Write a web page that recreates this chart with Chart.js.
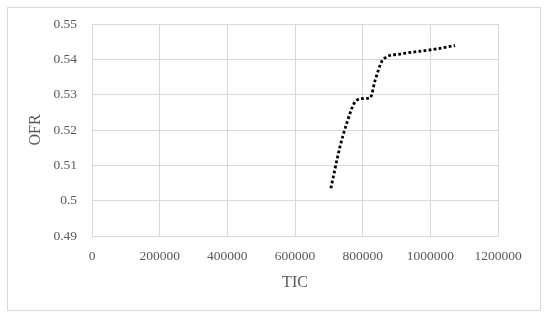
<!DOCTYPE html>
<html>
<head>
<meta charset="utf-8">
<script src="https://cdn.jsdelivr.net/npm/chart.js@4"></script>
<style>
  html, body { margin: 0; padding: 0; background: #fff; }
  #wrap { width: 550px; height: 318px; position: relative; }
</style>
</head>
<body>
<div id="wrap"><canvas id="myChart"></canvas></div>
<script>
// values
const ticValues = [706000, 733000, 753000, 778000, 802000, 822000, 837000, 856000, 871000, 910000, 1009000, 1073000];
const ofrValues = [0.5035, 0.5153, 0.5219, 0.528, 0.5289, 0.5291, 0.5341, 0.5393, 0.5407, 0.5415, 0.5428, 0.5439];

const xTickLabels = ['0', '200000', '400000', '600000', '800000', '1000000', '1200000'];
const yTickLabels = ['0.49', '0.5', '0.51', '0.52', '0.53', '0.54', '0.55'];

const points = ticValues.map((x, i) => ({ x: x, y: ofrValues[i] }));

const textColor = '#595959';
const gridColor = '#d9d9d9';
const font = { family: 'Liberation Serif', size: 13.5 };

// outer frame round the whole chart
const frame = {
    id: 'frame',
    beforeDraw(chart) {
        const ctx = chart.ctx;
        ctx.save();
        ctx.fillStyle = '#fff';
        ctx.fillRect(0, 0, chart.width, chart.height);
        ctx.strokeStyle = '#d9d9d9';
        ctx.lineWidth = 1;
        ctx.strokeRect(7.5, 7.5, 533, 303);
        ctx.restore();
    }
};

const myChart = new Chart(document.getElementById('myChart'), {
    type: 'scatter',
    data: {
        datasets: [{
            label: 'OFR',
            data: points,
            showLine: true,
            borderColor: '#000',
            borderWidth: 2.8,
            borderDash: [2.8, 2.3],
            borderCapStyle: 'butt',
            cubicInterpolationMode: 'monotone',
            pointRadius: 0,
            fill: false
        }]
    },
    options: {
        animation: false,
        responsive: true,
        maintainAspectRatio: false,
        layout: { padding: { left: 10, right: 52, top: 24, bottom: 10 } },
        plugins: {
            legend: { display: false },
            tooltip: { enabled: false }
        },
        scales: {
            x: {
                type: 'linear',
                min: 0,
                max: 1200000,
                afterFit: (s) => { s.height = 72; },
                afterBuildTicks: (s) => {
                    s.ticks = xTickLabels.map((t) => ({ value: Number(t) }));
                },
                ticks: {
                    color: textColor,
                    font: font,
                    padding: 12,
                    maxRotation: 0,
                    autoSkip: false,
                    callback: (v, i) => xTickLabels[i]
                },
                grid: { color: gridColor, drawTicks: false },
                border: { color: gridColor },
                title: {
                    display: true,
                    text: 'TIC',
                    color: textColor,
                    font: { family: 'Liberation Serif', size: 16 },
                    padding: { top: 0, bottom: 16 }
                }
            },
            y: {
                min: 0.49,
                max: 0.55,
                afterFit: (s) => { s.width = 82; },
                afterBuildTicks: (s) => {
                    s.ticks = yTickLabels.map((t) => ({ value: Number(t) }));
                },
                ticks: {
                    color: textColor,
                    font: font,
                    padding: 15,
                    autoSkip: false,
                    callback: (v, i) => yTickLabels[i]
                },
                grid: { color: gridColor, drawTicks: false },
                border: { color: gridColor },
                title: {
                    display: true,
                    text: 'OFR',
                    color: textColor,
                    font: { family: 'Liberation Serif', size: 16 },
                    padding: { top: 16, bottom: 0 }
                }
            }
        }
    },
    plugins: [frame]
});
</script>
</body>
</html>
